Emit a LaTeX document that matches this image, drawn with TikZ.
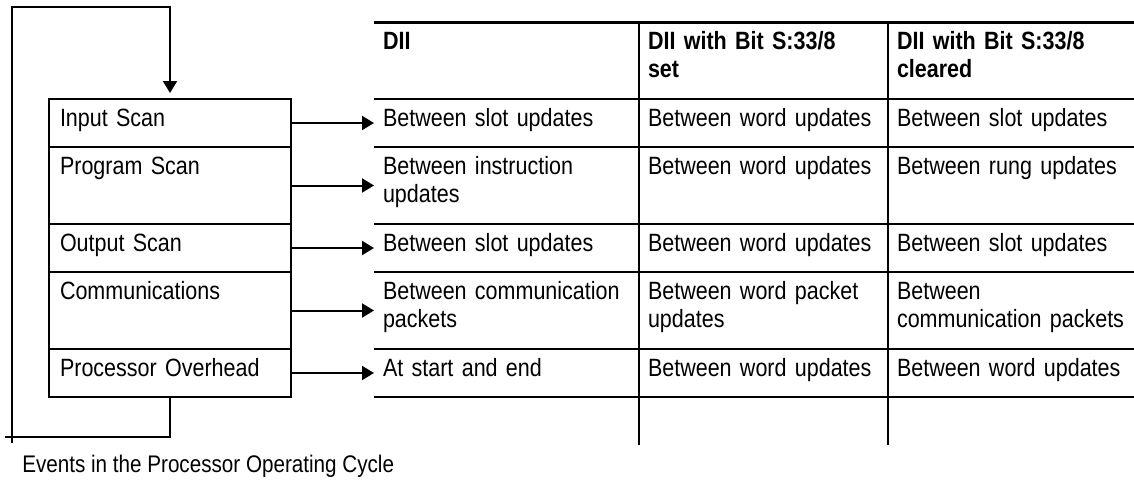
\documentclass[tikz,border=0pt]{standalone}
\usepackage{fontspec}
\setmainfont{Liberation Sans}[FakeStretch=0.86]
\usepackage{tikz}
\usetikzlibrary{arrows.meta,positioning}
\hyphenpenalty=10000
\exhyphenpenalty=10000

\begin{document}
\begin{tikzpicture}[x=1pt, y=-1pt, line width=2pt,
  every node/.style={font=\fontsize{25}{28}\selectfont},
  phase/.style={draw, outer sep=0pt, inner xsep=11pt, inner ysep=0pt,
    text width=220pt, align=left, text height=27pt},
  cell/.style={outer sep=0pt, inner xsep=9pt, inner ysep=0pt,
    align=left, text height=27pt},
  head/.style={cell, tworow, font=\fontsize{25}{28}\selectfont\bfseries},
  onerow/.style={text depth=21pt},
  tworow/.style={text depth=50pt},
  colA/.style={text width=247pt},
  colB/.style={text width=231pt},
  colC/.style={text width=228pt},
  arr/.style={-{Triangle[length=12pt,width=14pt]}}]
  \useasboundingbox (0,0) rectangle (1134,480);

  % operating cycle
  \node[phase, onerow, anchor=north west] (in) at (49,99) {Input Scan};
  \node[phase, tworow, below=0pt of in] (prog) {Program Scan};
  \node[phase, onerow, below=0pt of prog] (out) {Output Scan};
  \node[phase, tworow, below=0pt of out] (comm) {Communications};
  \node[phase, onerow, below=0pt of comm] (ovh) {Processor Overhead};

  \coordinate (loopa) at (5,437);
  \coordinate (loopb) at (12,443);
  \coordinate (looptop) at (170,7);
  \draw (ovh.south) |- (loopa);
  \draw[arr, shorten >=6pt] (loopb) |- (looptop) -- (in.north);

  % table
  \node[head, colA, anchor=north west] (dii-hd) at (374,22) {DII};
  \node[head, colB, right=0pt of dii-hd] (set-hd) {DII with Bit S:33/8\\set};
  \node[head, colC, right=0pt of set-hd] (clr-hd) {DII with Bit S:33/8\\cleared};

  \node[cell, onerow, colA, below=0pt of dii-hd] (dii-in) {Between slot updates};
  \node[cell, onerow, colB, right=0pt of dii-in] (set-in) {Between word updates};
  \node[cell, onerow, colC, right=0pt of set-in] (clr-in) {Between slot updates};

  \node[cell, tworow, colA, below=0pt of dii-in] (dii-prog) {Between instruction\\updates};
  \node[cell, tworow, colB, right=0pt of dii-prog] (set-prog) {Between word updates};
  \node[cell, tworow, colC, right=0pt of set-prog] (clr-prog) {Between rung updates};

  \node[cell, onerow, colA, below=0pt of dii-prog] (dii-out) {Between slot updates};
  \node[cell, onerow, colB, right=0pt of dii-out] (set-out) {Between word updates};
  \node[cell, onerow, colC, right=0pt of set-out] (clr-out) {Between slot updates};

  \node[cell, tworow, colA, below=0pt of dii-out] (dii-comm) {Between communication\\packets};
  \node[cell, tworow, colB, right=0pt of dii-comm] (set-comm) {Between word packet\\updates};
  \node[cell, tworow, colC, right=0pt of set-comm] (clr-comm) {Between\\communication packets};

  \node[cell, onerow, colA, below=0pt of dii-comm] (dii-ovh) {At start and end};
  \node[cell, onerow, colB, right=0pt of dii-ovh] (set-ovh) {Between word updates};
  \node[cell, onerow, colC, right=0pt of set-ovh] (clr-ovh) {Between word updates};

  \draw[line width=3pt] (dii-hd.north west) -- (clr-hd.north east);
  \foreach \r in {hd,in,prog,out,comm,ovh}
    \draw (dii-\r.south west) -- (clr-\r.south east);
  \draw (set-hd.north west) -- ++(0,423);
  \draw (clr-hd.north west) -- ++(0,423);

  \foreach \r in {in,prog,out,comm,ovh}
    \draw[arr] (\r.east) -- (dii-\r.west);

  \node[anchor=base west, font=\fontsize{24}{28}\selectfont] (caption) at (18,472) {Events in the Processor Operating Cycle};
\end{tikzpicture}
\end{document}
